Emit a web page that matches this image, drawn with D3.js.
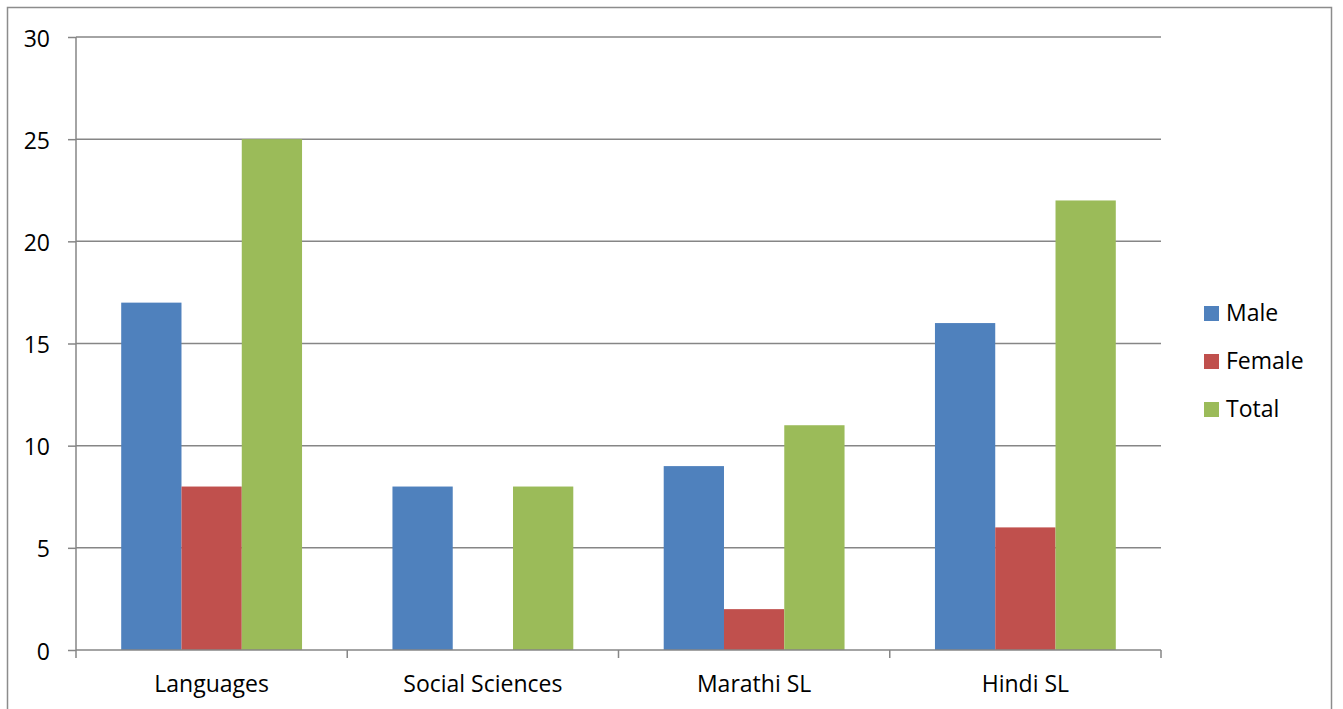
<!DOCTYPE html>
<html><head><meta charset="utf-8">
<script src="https://cdn.jsdelivr.net/npm/d3@7"></script>
<style>body{margin:0;background:#fff;} svg{display:block;} text{font-family:"Open Sans","Liberation Sans",sans-serif;fill:#000;}</style>
</head><body><svg id="c" width="1343" height="709"></svg>
<script>
const categories = ["Languages", "Social Sciences", "Marathi SL", "Hindi SL"];
const seriesNames = ["Male", "Female", "Total"];
const maleValues = [17, 8, 9, 16];
const femaleValues = [8, 0, 2, 6];
const totalValues = [25, 8, 11, 22];
const yTicks = [0, 5, 10, 15, 20, 25, 30];
const colors = ["#4F81BD", "#C0504D", "#9BBB59"];

(function () {
const svg = d3.select("#c");
const pLeft = 76, pRight = 1161, pTop = 37, pBottom = 650;
const gridColor = "#868686";
const fs = "23px";

svg.append("rect").attr("x", 7.5).attr("y", 7.5).attr("width", 1324).attr("height", 720)
  .attr("fill", "none").attr("stroke", "#8c8c8c").attr("stroke-width", 1.5);

const x = d3.scaleBand().domain(categories).range([pLeft, pRight]).paddingInner(0).paddingOuter(0);
const y = d3.scaleLinear().domain([0, 30]).range([pBottom, pTop]);
const series = [maleValues, femaleValues, totalValues];
const barW = x.bandwidth() / 4.5;

// gridlines
svg.append("g").selectAll("line").data(yTicks.filter(d => d > 0)).join("line")
  .attr("x1", pLeft).attr("x2", pRight).attr("y1", d => y(d)).attr("y2", d => y(d))
  .attr("stroke", gridColor).attr("stroke-width", 1.5);

// bars
series.forEach((vals, si) => {
  svg.append("g").selectAll("rect").data(vals).join("rect")
    .attr("x", (d, i) => x(categories[i]) + barW * 0.75 + si * barW)
    .attr("width", barW)
    .attr("y", d => y(d))
    .attr("height", d => pBottom - y(d))
    .attr("fill", colors[si]);
});

// y axis
const yAxis = d3.axisLeft(y).tickValues(yTicks).tickSize(8).tickPadding(18);
const gy = svg.append("g").attr("transform", `translate(${pLeft},0)`).call(yAxis);
gy.select(".domain").attr("stroke", gridColor).attr("stroke-width", 1.5).attr("d", `M0,${pTop}V${pBottom}`);
gy.selectAll(".tick line").attr("stroke", gridColor).attr("stroke-width", 1.5);
gy.selectAll(".tick text").attr("font-family", null).attr("font-size", null)
  .style("font-size", fs).attr("fill", "#000").attr("dy", "9px");

// x axis
const gx = svg.append("g").attr("transform", `translate(0,${pBottom})`);
gx.append("line").attr("x1", pLeft).attr("x2", pRight).attr("stroke", gridColor).attr("stroke-width", 1.5);
const bounds = categories.map(c => x(c)).concat([pRight]);
gx.selectAll("line.t").data(bounds).join("line").attr("class", "t")
  .attr("x1", d => d).attr("x2", d => d).attr("y1", 0).attr("y2", 8)
  .attr("stroke", gridColor).attr("stroke-width", 1.5);
gx.selectAll("text").data(categories).join("text")
  .attr("x", d => x(d) + x.bandwidth() / 2).attr("y", 42)
  .attr("text-anchor", "middle").style("font-size", fs).text(d => d);

// legend
const lg = svg.append("g");
const legendY = [313.5, 361.5, 409.5];
seriesNames.forEach((n, i) => {
  lg.append("rect").attr("x", 1204).attr("y", legendY[i] - 7.5).attr("width", 15).attr("height", 15).attr("fill", colors[i]);
  lg.append("text").attr("x", 1226).attr("y", legendY[i] + 7.5).style("font-size", fs).text(n);
});
})();
</script></body></html>
